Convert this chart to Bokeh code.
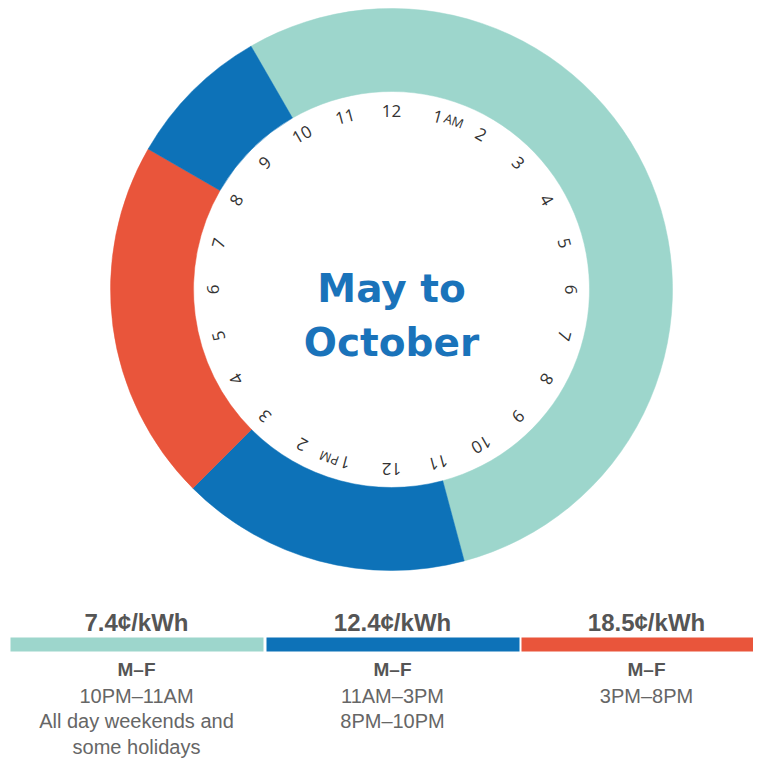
import math
from bokeh.plotting import figure
from bokeh.models import Range1d
from bokeh.core.properties import value
from bokeh.embed import file_html
from bokeh.resources import INLINE

# ---- data ----
hours = list(range(24))
hour_labels = ["12", "1", "2", "3", "4", "5", "6", "7", "8", "9", "10", "11",
               "12", "1", "2", "3", "4", "5", "6", "7", "8", "9", "10", "11"]
suffix_hours = [1, 13]
suffix_labels = ["AM", "PM"]

seg_start = [22, 11, 15, 20]
seg_end = [11, 15, 20, 22]
seg_rate = [0, 1, 2, 1]

rate_colors = ["#9dd6cc", "#0d72b8", "#e9553b"]
rate_labels = ["7.4¢/kWh", "12.4¢/kWh", "18.5¢/kWh"]
rate_days = ["M–F", "M–F", "M–F"]
rate_times = [["10PM–11AM", "All day weekends and", "some holidays"],
              ["11AM–3PM", "8PM–10PM"],
              ["3PM–8PM"]]
title_lines = ["May to", "October"]

# ---- layout (page pixel coordinates, y flipped) ----
W, H = 753, 759


def Y(py):
    return H - py


cx, cy = 391, Y(289)
r_out, r_in = 281, 198
r_lab = 179

p = figure(width=W, height=H, output_backend="svg", toolbar_location=None,
           x_range=Range1d(0, W), y_range=Range1d(0, H), min_border=0)
p.axis.visible = False
p.grid.visible = False
p.outline_line_color = None
p.background_fill_color = "white"
p.border_fill_color = "white"


def ang(h):
    return math.radians(90 - 15 * h)


starts, ends, cols = [], [], []
for s, e, r in zip(seg_start, seg_end, seg_rate):
    starts.append(ang(e))
    ends.append(ang(s))
    cols.append(rate_colors[r])

p.annular_wedge(x=cx, y=cy, inner_radius=r_in, outer_radius=r_out,
                start_angle=starts, end_angle=ends, direction="anticlock",
                fill_color=cols, line_color=cols, line_width=0.5)

# hour labels
hx, hy, ha = [], [], []
for h in hours:
    t = math.radians(15 * h)
    hx.append(cx + r_lab * math.sin(t))
    hy.append(cy + r_lab * math.cos(t))
    ha.append(-t)
p.text(x=hx, y=hy, text=hour_labels, angle=ha, text_align="center",
       text_baseline="middle", text_font=value("Open Sans"),
       text_font_size="17px", text_color="#333333")

sx, sy, sa = [], [], []
for h in suffix_hours:
    t = math.radians(15 * h + 5.3)
    sx.append(cx + (r_lab + 1) * math.sin(t))
    sy.append(cy + (r_lab + 1) * math.cos(t))
    sa.append(-t)
p.text(x=sx, y=sy, text=suffix_labels, angle=sa, text_align="center",
       text_baseline="middle", text_font=value("Open Sans"),
       text_font_size="13px", text_color="#333333")

# center title
p.text(x=[cx, cx], y=[Y(288), Y(342)], text=title_lines, text_align="center",
       text_baseline="alphabetic", text_font=value("DejaVu Sans"),
       text_font_style="bold", text_font_size="39px", text_color="#1a73ba")

# legend
col_left = [10, 266, 521]
col_right = [263, 519, 769]
col_center = [136, 392, 646]
p.quad(left=col_left, right=col_right, top=[Y(637)] * 3, bottom=[Y(651)] * 3,
       fill_color=rate_colors, line_color=None)
p.text(x=col_center, y=[Y(622)] * 3, text=rate_labels, text_align="center",
       text_baseline="middle", text_font=value("Liberation Sans"),
       text_font_style="bold", text_font_size="24px", text_color="#555555")
p.text(x=col_center, y=[Y(669)] * 3, text=rate_days, text_align="center",
       text_baseline="middle", text_font=value("Liberation Sans"),
       text_font_style="bold", text_font_size="19px", text_color="#555555")
tx, ty, tt = [], [], []
for c, lines in zip(col_center, rate_times):
    for i, ln in enumerate(lines):
        tx.append(c)
        ty.append(Y(695 + 25.5 * i))
        tt.append(ln)
p.text(x=tx, y=ty, text=tt, text_align="center", text_baseline="middle",
       text_font=value("Liberation Sans"), text_font_size="20px",
       text_color="#666666")

open("out.html", "w").write(file_html(p, INLINE))
